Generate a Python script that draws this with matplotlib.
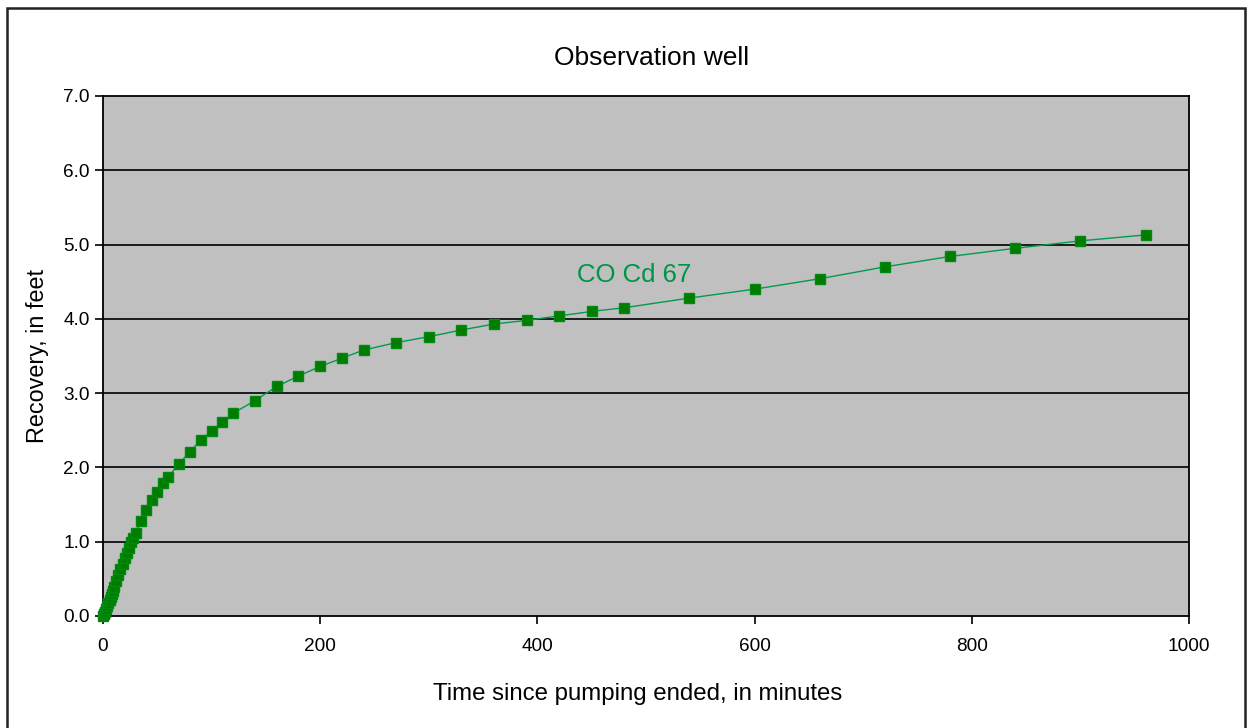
import numpy as np
import matplotlib
matplotlib.use('Agg')
import matplotlib.pyplot as plt
from matplotlib.patches import Rectangle

plt.rcParams['font.family'] = ['Liberation Sans', 'DejaVu Sans']

# ── Data: recovery in observation well ─────────────────────────────
minutes = [0, 1, 2, 3, 4, 5, 6, 7, 8, 9, 10, 12, 14, 16, 18, 20, 22, 24, 26, 28,
           30, 35, 40, 45, 50, 55, 60, 70, 80, 90, 100, 110, 120, 140, 160, 180,
           200, 220, 240, 270, 300, 330, 360, 390, 420, 450, 480, 540, 600, 660,
           720, 780, 840, 900, 960]
recovery = [0.00, 0.03, 0.06, 0.10, 0.14, 0.18, 0.22, 0.26, 0.30, 0.34, 0.39,
            0.47, 0.55, 0.63, 0.70, 0.78, 0.85, 0.92, 0.99, 1.05,
            1.12, 1.28, 1.43, 1.56, 1.67, 1.79, 1.87, 2.05, 2.21, 2.37, 2.49,
            2.61, 2.73, 2.90, 3.09, 3.23, 3.36, 3.47, 3.58, 3.68, 3.76, 3.85,
            3.93, 3.98, 4.04, 4.10, 4.15, 4.28, 4.40, 4.54, 4.70, 4.84, 4.95,
            5.05, 5.13]
xticks = [0, 200, 400, 600, 800, 1000]
yticks = [0.0, 1.0, 2.0, 3.0, 4.0, 5.0, 6.0, 7.0]

W, H = 1247, 728
fig = plt.figure(figsize=(W/100, H/100), dpi=100)
ax = fig.add_axes([103/W, 1-616/H, (1189-103)/W, (616-96)/H])

# outer frame
fig.patches.append(Rectangle((7/W, -0.02), (1245-7)/W, 1-8/H+0.02,
                             transform=fig.transFigure, fill=False,
                             edgecolor='#222222', lw=1.8))

ax.set_facecolor('#c0c0c0')
for y in yticks[1:-1]:
    ax.axhline(y, color='black', lw=1.2, zorder=1)

ax.plot(minutes, recovery, color='#009a50', lw=1.0, zorder=3)
ax.plot(minutes, recovery, ls='none', marker='s', ms=6.5, color='#007d00',
        mec='#008a10', zorder=4, clip_on=False)

ax.text(489, 4.59, 'CO Cd 67', color='#009448', fontsize=18.5, ha='center', va='center')

ax.set_xlim(0, 1000)
ax.set_ylim(0, 7)
ax.set_xticks(xticks)
ax.set_yticks(yticks)
ax.set_yticklabels([f'{v:.1f}' for v in yticks])
ax.tick_params(direction='out', length=6, width=1.2, labelsize=13.7, color='black')
ax.tick_params(axis='x', pad=10)
for s in ax.spines.values():
    s.set_linewidth(1.3)
    s.set_color('black')

ax.set_title('Observation well', fontsize=19, pad=22, x=0.5055)
ax.set_xlabel('Time since pumping ended, in minutes', fontsize=17.3, labelpad=20, x=0.4926)
ax.set_ylabel('Recovery, in feet', fontsize=16.8, labelpad=10)

fig.savefig('out.png', dpi=100)
